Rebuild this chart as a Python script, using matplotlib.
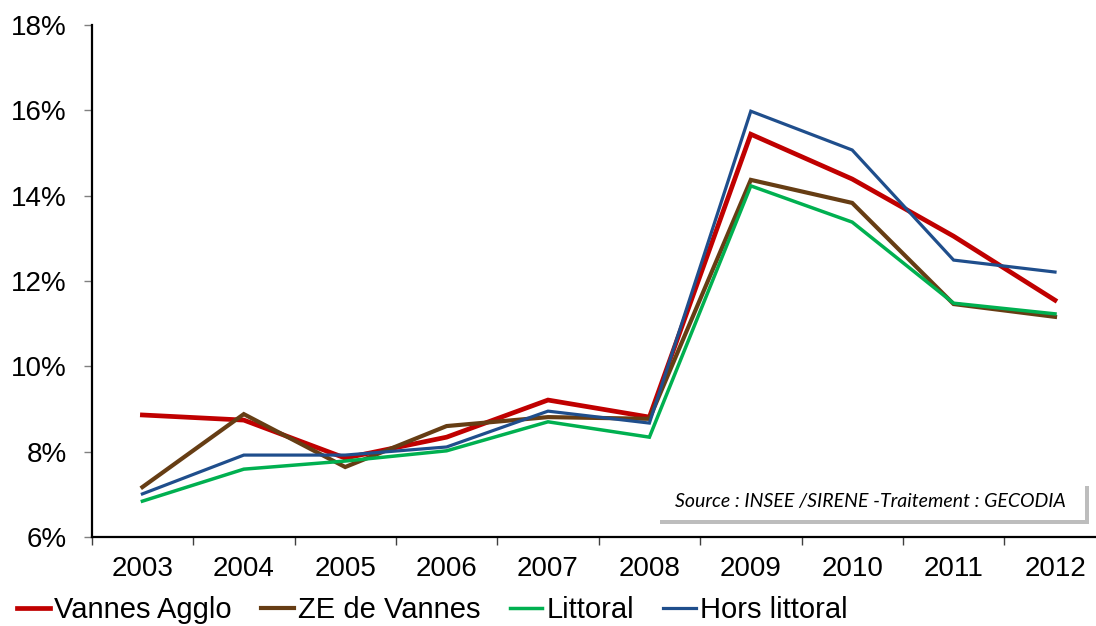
import matplotlib
matplotlib.use("Agg")
import matplotlib.pyplot as plt
from matplotlib.patches import Rectangle
from matplotlib.ticker import FuncFormatter, FixedLocator

# Taux de création d'entreprises, 2003-2012
annees = ['2003', '2004', '2005', '2006', '2007', '2008', '2009', '2010', '2011', '2012']
vannes_agglo = [8.86, 8.74, 7.85, 8.34, 9.21, 8.81, 15.44, 14.39, 13.05, 11.55]
ze_vannes = [7.17, 8.88, 7.64, 8.60, 8.81, 8.77, 14.37, 13.83, 11.46, 11.16]
littoral = [6.84, 7.59, 7.78, 8.02, 8.70, 8.34, 14.23, 13.38, 11.48, 11.23]
hors_littoral = [7.01, 7.92, 7.92, 8.11, 8.95, 8.67, 15.98, 15.07, 12.49, 12.21]

series = [
    ('Vannes Agglo', vannes_agglo, '#C00000', 3.4),
    ('ZE de Vannes', ze_vannes, '#663D14', 3.0),
    ('Littoral', littoral, '#00B050', 2.5),
    ('Hors littoral', hors_littoral, '#1F4E8C', 2.3),
]

plt.rcParams['font.family'] = ['Liberation Sans', 'DejaVu Sans']

W, H = 1096, 626
fig = plt.figure(figsize=(W / 100, H / 100), dpi=100)
ax = fig.add_axes([91.7 / W, (H - 537) / H, 1014 / W, 512 / H])

x = range(len(annees))
for nom, vals, col, lw in series:
    ax.plot(x, [v / 100 for v in vals], color=col, lw=lw, label=nom,
            solid_joinstyle='miter')

ax.set_xlim(-0.5, len(annees) - 0.5)
ax.set_ylim(0.06, 0.18)
ax.set_yticks([0.06, 0.08, 0.10, 0.12, 0.14, 0.16, 0.18])
ax.yaxis.set_major_formatter(FuncFormatter(lambda v, p: '%d%%' % round(v * 100)))

# ticks between categories, labels centred on each year
ax.xaxis.set_major_locator(FixedLocator([i - 0.5 for i in range(len(annees) + 1)]))
ax.xaxis.set_major_formatter(plt.NullFormatter())
ax.set_xticks(list(x), minor=True)
ax.set_xticklabels(annees, minor=True)
ax.tick_params(axis='x', which='minor', length=0, pad=14, labelsize=20)
ax.tick_params(axis='x', which='major', length=6, width=1, color='#404040')
ax.tick_params(axis='y', length=6, width=1, color='#808080', pad=12, labelsize=20)

for s in ['top', 'right']:
    ax.spines[s].set_visible(False)
for s in ['left', 'bottom']:
    ax.spines[s].set_linewidth(1.6)
    ax.spines[s].set_color('black')

# encadré source avec ombre grisée
bx0, bx1, by0, by1 = 656, 1085, 482, 520
shadow = Rectangle(((bx0 + 4) / W, (H - by1 - 4) / H), (bx1 - bx0) / W, (by1 - by0) / H,
                   transform=fig.transFigure, facecolor='#BDBDBD', edgecolor='none',
                   zorder=5)
box = Rectangle((bx0 / W, (H - by1) / H), (bx1 - bx0) / W, (by1 - by0) / H,
                transform=fig.transFigure, facecolor='white', edgecolor='none', zorder=6)
fig.patches.extend([shadow, box])
fig.text((bx0 + bx1) / 2 / W, (H - (by0 + by1) / 2) / H,
         'Source : INSEE /SIRENE -Traitement : GECODIA',
         ha='center', va='center', fontsize=14, style='italic',
         family=['Lato', 'DejaVu Sans'], zorder=7)

fig.legend(loc='center left', bbox_to_anchor=(17 / W, 1 - 610 / H), ncol=4,
           frameon=False, fontsize=21, handlelength=1.12, handletextpad=0.15,
           columnspacing=1.0, borderpad=0, borderaxespad=0)

fig.savefig('out.png', dpi=100)
